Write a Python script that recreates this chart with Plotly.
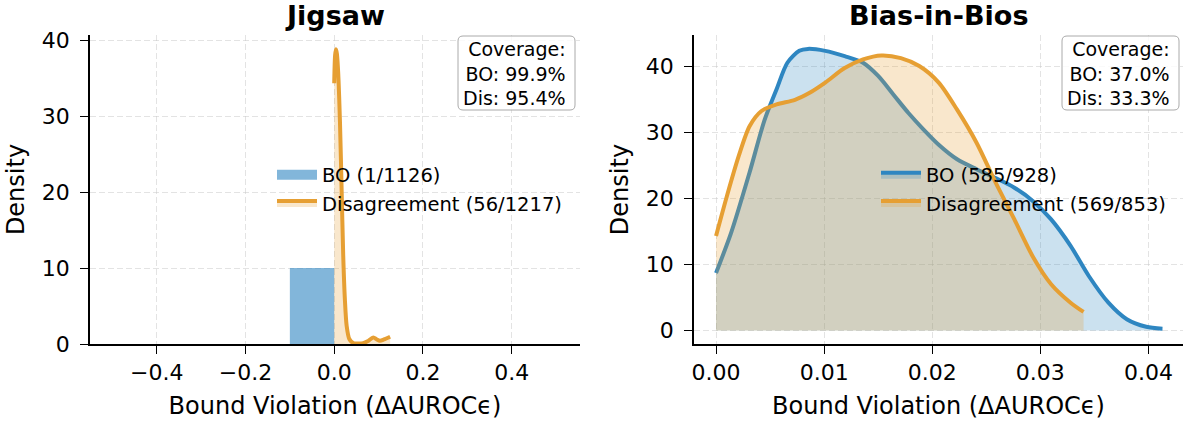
import plotly.graph_objects as go

# ---------------- data ----------------
# Jigsaw panel
jig_bo_bin_left = [-0.1]
jig_bo_bin_right = [0.0]
jig_bo_density = [10.0]
jig_dis_x = [0.000, 0.002, 0.004, 0.006, 0.009, 0.013, 0.0167, 0.0203, 0.024, 0.028,
             0.034, 0.043, 0.055, 0.065, 0.075, 0.088, 0.096, 0.103, 0.112, 0.126]
jig_dis_y = [34.3, 38.0, 38.8, 38.2, 35.6, 29.1, 20.3, 11.6, 5.9, 2.4,
             0.66, 0.12, 0.08, 0.12, 0.35, 0.87, 0.6, 0.43, 0.6, 0.96]
jig_bo_label = "BO (1/1126)"
jig_dis_label = "Disagreement (56/1217)"
jig_cov = ["Coverage:", "BO: 99.9%", "Dis: 95.4%"]

# Bias-in-Bios panel
bib_bo_x = [0.0, 0.0014, 0.0031, 0.0045, 0.0056, 0.0066, 0.0077, 0.0085, 0.0101, 0.0119,
            0.0136, 0.015, 0.0164, 0.0178, 0.0192, 0.0206, 0.0223, 0.0241, 0.0258, 0.0276,
            0.0293, 0.031, 0.0328, 0.0345, 0.0363, 0.038, 0.0398, 0.0413]
bib_bo_y = [8.7, 14.8, 23.9, 31.9, 36.5, 40.5, 42.3, 42.6, 42.3, 41.5,
            40.5, 38.5, 35.7, 32.9, 30.4, 28.1, 25.9, 24.4, 23.1, 21.6,
            19.6, 16.8, 12.8, 8.2, 4.2, 1.7, 0.55, 0.25]
bib_dis_x = [0.0, 0.001, 0.0021, 0.0031, 0.0042, 0.0056, 0.0073, 0.0087, 0.0101, 0.0119,
             0.0136, 0.0153, 0.0171, 0.0188, 0.0206, 0.0223, 0.0241, 0.0258, 0.0276, 0.0293,
             0.031, 0.0328, 0.034]
bib_dis_y = [14.3, 20.3, 26.4, 30.9, 33.2, 34.2, 34.9, 36.0, 37.5, 39.7,
             41.0, 41.6, 41.2, 40.0, 37.5, 33.4, 28.4, 22.6, 16.8, 11.2,
             7.0, 4.2, 2.8]
bib_bo_label = "BO (585/928)"
bib_dis_label = "Disagreement (569/853)"
bib_cov = ["Coverage:", "BO: 37.0%", "Dis: 33.3%"]

titles = ["Jigsaw", "Bias-in-Bios"]
x_title = "Bound Violation (ΔAUROCϵ)"
y_title = "Density"
jig_xticks = [-0.4, -0.2, 0.0, 0.2, 0.4]
bib_xticks = [0.00, 0.01, 0.02, 0.03, 0.04]
y_ticks = [0, 10, 20, 30, 40]

# ---------------- style ----------------
BLUE = "#2E86C1"
ORANGE = "#E69F33"
BLUE_FILL = "rgba(46,134,193,0.25)"
ORANGE_FILL = "rgba(230,159,51,0.25)"
BAR_FILL = "rgba(46,134,193,0.6)"
FONT = "DejaVu Sans"
LW = 4

fig = go.Figure()

# Jigsaw: BO histogram
fig.add_trace(go.Bar(
    x=[(l + r) / 2 for l, r in zip(jig_bo_bin_left, jig_bo_bin_right)],
    y=jig_bo_density,
    width=[r - l for l, r in zip(jig_bo_bin_left, jig_bo_bin_right)],
    marker=dict(color=BAR_FILL, line=dict(width=0)),
    xaxis="x", yaxis="y", showlegend=False, name=jig_bo_label,
))
# legend handle for histogram patch
fig.add_trace(go.Scatter(
    x=[None], y=[None], mode="lines", line=dict(color=BAR_FILL, width=16),
    name=jig_bo_label, legend="legend", xaxis="x", yaxis="y",
))
fig.add_trace(go.Scatter(
    x=jig_dis_x, y=jig_dis_y, mode="lines", fill="tozeroy", fillcolor=ORANGE_FILL,
    line=dict(color=ORANGE, width=LW, shape="spline", smoothing=0.8),
    name=jig_dis_label, legend="legend", xaxis="x", yaxis="y",
))

# Bias-in-Bios
fig.add_trace(go.Scatter(
    x=bib_bo_x, y=bib_bo_y, mode="lines", fill="tozeroy", fillcolor=BLUE_FILL,
    line=dict(color=BLUE, width=LW, shape="spline", smoothing=0.8),
    name=bib_bo_label, legend="legend2", xaxis="x2", yaxis="y2",
))
fig.add_trace(go.Scatter(
    x=bib_dis_x, y=bib_dis_y, mode="lines", fill="tozeroy", fillcolor=ORANGE_FILL,
    line=dict(color=ORANGE, width=LW, shape="spline", smoothing=0.8),
    name=bib_dis_label, legend="legend2", xaxis="x2", yaxis="y2",
))

W, H = 1190, 425
ML, MR, MT, MB = 90, 5, 35, 81
PW, PH = W - ML - MR, H - MT - MB


def px(xp):
    return (xp - ML) / PW


def py(yp):
    return (H - MB - yp) / PH


axis_common = dict(
    showline=True, linecolor="black", linewidth=1.5, mirror=False,
    ticks="outside", ticklen=8, tickwidth=1.3, tickcolor="black",
    showgrid=True, gridcolor="rgba(200,200,200,0.5)", griddash="6px,3px", gridwidth=1,
    zeroline=False, tickfont=dict(family=FONT, size=22, color="black"),
    title_font=dict(family=FONT, size=24, color="black"),
)

dom1 = [0.0, px(580)]
dom2 = [px(694), px(1183)]

fig.update_layout(
    width=W, height=H,
    margin=dict(l=ML, r=MR, t=MT, b=MB),
    paper_bgcolor="white", plot_bgcolor="white",
    font=dict(family=FONT, color="black"),
    barmode="overlay",
    xaxis=dict(domain=dom1, range=[-0.5505, 0.554], tickvals=jig_xticks, tickformat=".1f",
               title=dict(text=x_title, standoff=13), anchor="y", **axis_common),
    yaxis=dict(domain=[0, 1], range=[0, 40.66], tickvals=y_ticks, ticklabelstandoff=6,
               title=dict(text=y_title, standoff=10), anchor="x", **axis_common),
    xaxis2=dict(domain=dom2, range=[-0.00204, 0.0432], tickvals=bib_xticks, tickformat=".2f",
                title=dict(text=x_title, standoff=13), anchor="y2", **axis_common),
    yaxis2=dict(domain=[0, 1], range=[-2.05, 44.7], tickvals=y_ticks, ticklabelstandoff=6,
                title=dict(text=y_title, standoff=10), anchor="x2", **axis_common),
    legend=dict(x=px(272), y=py(189), xanchor="left", yanchor="middle",
                bgcolor="rgba(0,0,0,0)", font=dict(family=FONT, size=19.5, color="black"),
                itemwidth=40, tracegroupgap=0),
    legend2=dict(x=px(876), y=py(189), xanchor="left", yanchor="middle",
                 bgcolor="rgba(0,0,0,0)", font=dict(family=FONT, size=19.5, color="black"),
                 itemwidth=40, tracegroupgap=0),
    showlegend=True,
)

annotations = []
for dom, t in zip([dom1, dom2], titles):
    annotations.append(dict(
        text="<b>%s</b>" % t, x=(dom[0] + dom[1]) / 2, y=py(15), xref="paper", yref="paper",
        xanchor="center", yanchor="middle", showarrow=False,
        font=dict(family=FONT, size=27, color="black"),
    ))
shapes = []
R = 5  # corner radius in px
for (xl, xr), cov in zip([(458, 575), (1062, 1179)], [jig_cov, bib_cov]):
    yt, yb = 36, 110
    annotations.append(dict(
        text="<br>".join(cov), x=px(xr - 7), y=py((yt + yb) / 2), xref="paper", yref="paper",
        xanchor="right", yanchor="middle", align="right", showarrow=False,
        font=dict(family=FONT, size=19, color="black"),
    ))
    rx, ry = R / PW, R / PH
    x0, x1, y0, y1 = px(xl), px(xr), py(yb), py(yt)
    path = (f"M{x0 + rx},{y1} L{x1 - rx},{y1} Q{x1},{y1} {x1},{y1 - ry} "
            f"L{x1},{y0 + ry} Q{x1},{y0} {x1 - rx},{y0} L{x0 + rx},{y0} "
            f"Q{x0},{y0} {x0},{y0 + ry} L{x0},{y1 - ry} Q{x0},{y1} {x0 + rx},{y1} Z")
    shapes.append(dict(type="path", path=path, xref="paper", yref="paper",
                       fillcolor="rgba(255,255,255,0.8)", line=dict(color="#aaaaaa", width=1),
                       layer="above"))
fig.update_layout(annotations=annotations, shapes=shapes)

fig.write_html("out.html")
